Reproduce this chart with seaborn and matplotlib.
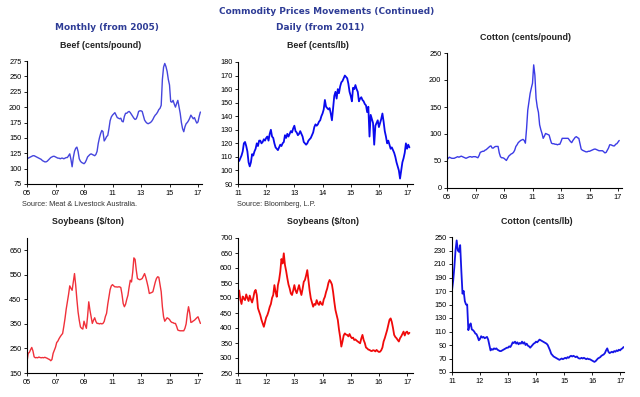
import numpy as np
import pandas as pd
import matplotlib
matplotlib.use("Agg")
import matplotlib.pyplot as plt
import seaborn as sns

# ---- data ----
# monthly series, Jan 2005 onwards
beef_monthly = [
    116, 117, 118, 119, 120, 121, 121, 120, 119, 118, 117, 116,
    115, 113, 112, 111, 111, 112, 114, 116, 118, 119, 120, 120,
    119, 118, 117, 117, 116, 117, 117, 116, 117, 118, 118, 121,
    124, 115, 103, 118, 128, 133, 135, 128, 116, 112, 110, 109,
    108, 110, 114, 119, 121, 123, 124, 123, 122, 121, 123, 128,
    141, 150, 157, 162, 160, 145, 148, 152, 154, 165, 178, 184,
    187, 189, 191, 187, 183, 182, 181, 182, 177, 176, 185, 190,
    190, 192, 193, 191, 188, 185, 182, 180, 181, 186, 193, 194,
    194, 193, 186, 179, 176, 174, 173, 174, 175, 177, 180, 184,
    187, 189, 192, 196, 198, 203, 245, 265, 271, 266, 258, 245,
    236, 209, 208, 211, 205, 200, 206, 211, 200, 190, 175, 165,
    160, 168, 173, 175, 178, 182, 187, 184, 181, 183, 178, 174,
    176, 185, 192,
]
cotton_monthly = [
    52, 55, 57, 56, 55, 55, 55, 56, 57, 58, 57, 58,
    59, 58, 57, 56, 55, 56, 57, 58, 58, 57, 58, 58,
    58, 57, 56, 60, 66, 67, 68, 68, 70, 71, 73, 75,
    77, 78, 74, 74, 76, 77, 77, 77, 65, 58, 56, 56,
    55, 53, 51, 55, 59, 61, 63, 64, 66, 70, 77, 80,
    84, 86, 88, 89, 90, 88, 83, 110, 144, 160, 175, 185,
    194, 228, 209, 166, 150, 140, 117, 108, 101, 92, 96, 101,
    100, 99, 98, 90, 83, 82, 82, 81, 81, 80, 81, 81,
    86, 92, 92, 92, 92, 92, 92, 89, 86, 84, 88, 91,
    94, 95, 93, 92, 82, 72, 70, 69, 68, 67, 67, 68,
    68, 69, 70, 71, 72, 72, 71, 70, 69, 69, 69, 69,
    67, 65, 66, 70, 74, 80, 80, 79, 78, 78, 81, 82,
    85, 88,
]
soy_monthly = [
    196, 230, 234, 245, 254, 240, 216, 212, 213, 212, 215, 213,
    212, 213, 212, 214, 212, 210, 207, 205, 200, 205, 230, 243,
    255, 274, 280, 290, 298, 305, 311, 340, 372, 410, 440, 470,
    505, 495, 487, 520, 555, 508, 450, 399, 365, 338, 332, 329,
    361, 345, 332, 380, 440, 406, 380, 352, 365, 375, 360, 352,
    352, 350, 352, 350, 352, 360, 380, 393, 430, 460, 490, 505,
    510, 505, 501, 501, 500, 501, 501, 498, 470, 433, 420, 430,
    450, 467, 500, 528, 521, 560, 619, 613, 570, 535, 532, 530,
    532, 535, 545, 555, 540, 521, 500, 474, 476, 478, 481, 500,
    520, 535, 542, 540, 510, 481, 420, 379, 361, 368, 375, 372,
    368, 360, 356, 355, 352, 352, 340, 325, 323, 322, 322, 322,
    322, 332, 350, 390, 420, 395, 356, 358, 362, 365, 370, 375,
    379, 365, 352,
]

# daily series, sampled twice a month from Jan 2011
beef_daily = [
    108, 107, 109, 111, 114, 120, 121, 118, 114, 106, 103, 106,
    112, 111, 114, 116, 120, 118, 122, 122, 120, 121, 123, 122,
    124, 125, 122, 127, 130, 125, 124, 120, 117, 116, 115, 117,
    119, 118, 120, 121, 126, 124, 127, 125, 127, 129, 128, 131,
    133, 129, 128, 126, 127, 129, 127, 125, 121, 120, 119, 120,
    122, 123, 124, 126, 128, 132, 134, 133, 134, 136, 137, 140,
    142, 145, 152, 147, 146, 145, 146, 142, 137, 146, 155, 158,
    153, 160, 157, 162, 165, 166, 168, 170, 169, 168, 164, 158,
    155, 151, 161, 160, 163, 160, 158, 151, 153, 154, 152, 151,
    149, 148, 143, 147, 125, 141, 138, 135, 119, 133, 135, 137,
    132, 135, 138, 142, 136, 129, 125, 120, 122, 119, 116, 117,
    115, 113, 110, 106, 103, 100, 94, 100, 106, 109, 113, 120,
    116, 119, 117,
]
soy_daily = [
    510, 525, 495, 480, 505, 498, 493, 512, 500, 490, 508, 495,
    485, 500, 520, 527, 510, 466, 455, 443, 427, 415, 404, 420,
    435, 443, 455, 470, 480, 500, 510, 543, 520, 504, 543, 560,
    588, 630, 615, 649, 610, 590, 566, 545, 532, 515, 510, 525,
    543, 525, 516, 530, 543, 525, 510, 530, 554, 560, 575, 593,
    560, 525, 499, 485, 471, 480, 477, 493, 482, 477, 488, 480,
    477, 495, 504, 520, 532, 550, 560, 554, 545, 520, 488, 460,
    443, 427, 395, 370, 338, 355, 375, 382, 378, 377, 372, 380,
    371, 366, 368, 360, 362, 358, 355, 352, 349, 365, 377, 360,
    350, 335, 332, 328, 327, 324, 323, 326, 325, 322, 327, 323,
    320, 321, 326, 335, 355, 366, 380, 393, 410, 427, 432, 420,
    400, 377, 370, 366, 360, 355, 366, 372, 380, 388, 375, 385,
    388, 380, 384,
]
cotton_daily = [
    171, 185, 205, 230, 245, 230, 228, 238, 200, 166, 170, 155,
    150, 150, 112, 119, 122, 113, 112, 110, 107, 106, 102, 97,
    99, 103, 101, 102, 100, 101, 102, 98, 90, 82, 84, 83,
    85, 84, 85, 83, 82, 81, 81, 82, 83, 84, 85, 86,
    86, 88, 87, 90, 94, 93, 95, 92, 94, 91, 93, 92,
    95, 92, 94, 90, 92, 89, 88, 86, 88, 90, 92, 93,
    95, 94, 96, 98, 97, 96, 95, 94, 93, 92, 90, 86,
    82, 77, 75, 73, 72, 71, 70, 69, 68, 69, 70, 69,
    70, 71, 70, 72, 71, 73, 74, 73, 74, 73, 72, 73,
    71, 70, 70, 71, 70, 71, 70, 69, 70, 69, 69, 68,
    67, 66, 65, 66, 68, 70, 71, 72, 74, 75, 76, 78,
    82, 85, 80, 78, 79, 80, 79, 81, 80, 82, 81, 83,
    82, 84, 85, 87,
]

monthly_ticks = [2005, 2007, 2009, 2011, 2013, 2015, 2017]
monthly_labels = ["05", "07", "09", "11", "13", "15", "17"]
daily_ticks = [2011, 2012, 2013, 2014, 2015, 2016, 2017]
daily_labels = ["11", "12", "13", "14", "15", "16", "17"]

title_blue = "#2E3C96"
W, H = 640, 397

sns.set_theme(style="white")
plt.rcParams["font.family"] = ["Liberation Sans", "DejaVu Sans"]
fig = plt.figure(figsize=(6.4, 3.97), dpi=100)


def box(x0, x1, y0, y1):
    # pixel box -> figure fraction
    return [x0 / W, 1 - y1 / H, (x1 - x0) / W, (y1 - y0) / H]


def label(px, py, s, **kw):
    fig.text(px / W, 1 - py / H, s, va="center", **kw)


def panel(rect, values, start, per_year, color, xlim, ylim, yticks,
          xticks, xlabels, title, title_xy, lw=1.0):
    ax = fig.add_axes(rect)
    df = pd.DataFrame({"t": start + np.arange(len(values)) / per_year,
                       "v": values})
    sns.lineplot(data=df, x="t", y="v", ax=ax, color=color, linewidth=lw)
    ax.set_xlim(*xlim)
    ax.set_ylim(*ylim)
    ax.set_yticks(yticks)
    ax.set_xticks(xticks)
    ax.set_xticklabels(xlabels)
    ax.set_xlabel("")
    ax.set_ylabel("")
    for s in ["top", "right"]:
        ax.spines[s].set_visible(False)
    for s in ["left", "bottom"]:
        ax.spines[s].set_color("black")
        ax.spines[s].set_linewidth(0.8)
    ax.tick_params(axis="both", labelsize=5.3, length=2, width=0.6,
                   pad=2, colors="black", direction="out")
    ax.tick_params(left=True, bottom=True)
    label(*title_xy, title, ha="center", fontsize=6.4, fontweight="bold",
          color="#222222")
    return ax


panel(box(27, 202, 61, 184), beef_monthly, 2005, 12, "#4545DD",
      (2005, 2017.28), (75, 275), range(75, 276, 25),
      monthly_ticks, monthly_labels, "Beef (cents/pound)", (101, 45))
panel(box(238, 413, 62, 184), beef_daily, 2011, 24, "#0A0AEE",
      (2011, 2017.21), (90, 180), range(90, 181, 10),
      daily_ticks, daily_labels, "Beef (cents/lb)", (318, 45), lw=1.3)
panel(box(447, 622, 53, 188), cotton_monthly, 2005, 12, "#3B3BE6",
      (2005, 2017.28), (0, 250), range(0, 251, 50),
      monthly_ticks, monthly_labels, "Cotton (cents/pound)", (525, 38))
panel(box(27, 202, 238, 373), soy_monthly, 2005, 12, "#F0303A",
      (2005, 2017.28), (150, 700), range(150, 651, 100),
      monthly_ticks, monthly_labels, "Soybeans ($/ton)", (88, 222))
panel(box(238, 413, 238, 373), soy_daily, 2011, 24, "#F00A0A",
      (2011, 2017.21), (250, 700), range(250, 701, 50),
      daily_ticks, daily_labels, "Soybeans ($/ton)", (323, 222), lw=1.3)
panel(box(452, 624, 237, 372), cotton_daily, 2011, 24, "#1414E6",
      (2011, 2017.14), (50, 250), range(50, 251, 20),
      daily_ticks, daily_labels, "Cotton (cents/lb)", (537, 221), lw=1.3)

head = dict(ha="center", fontsize=6.4, fontweight="bold",
            color=title_blue, fontfamily="DejaVu Sans")
label(327, 12, "Commodity Prices Movements (Continued)", **head)
label(107, 28, "Monthly (from 2005)", **head)
label(320, 28, "Daily (from 2011)", **head)
label(22, 204, "Source: Meat & Livestock Australia.", ha="left",
      fontsize=5.3, color="#333333")
label(237, 204, "Source: Bloomberg, L.P.", ha="left",
      fontsize=5.3, color="#333333")

fig.savefig("out.png", dpi=100, facecolor="white")
